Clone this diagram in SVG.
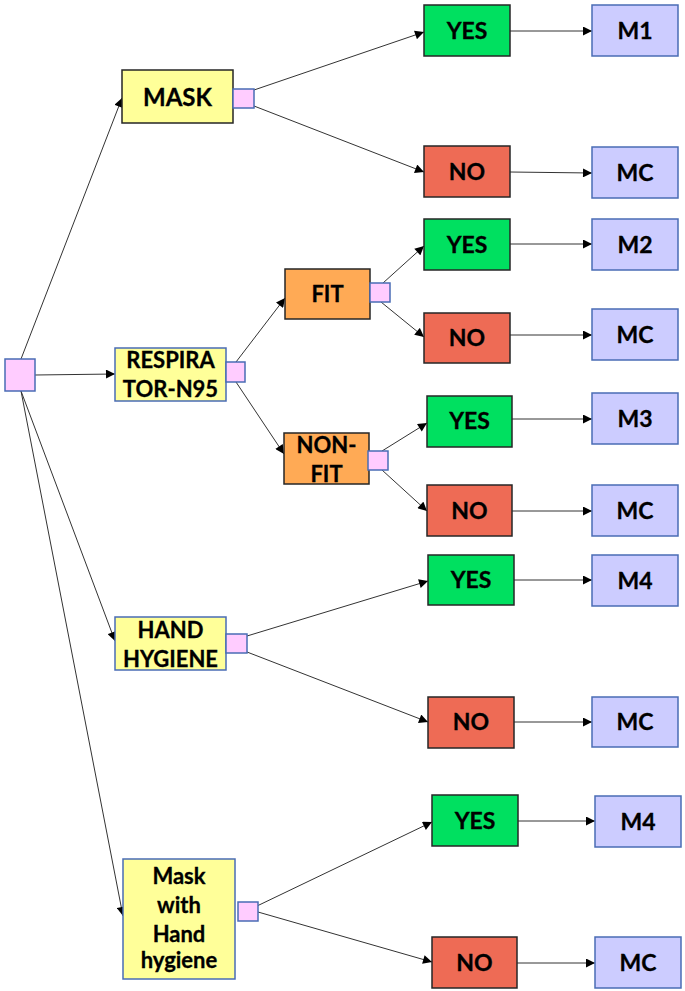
<svg xmlns="http://www.w3.org/2000/svg" width="685" height="991" viewBox="0 0 685 991">
<style>
rect{stroke-width:1.5}
.y{fill:#FFFF99}
.p{fill:#FFCCFF;stroke:#4A6CB5}
.g{fill:#00E060;stroke:#262626}
.r{fill:#EE6B55;stroke:#262626}
.o{fill:#FFAA55;stroke:#262626}
.l{fill:#CCCCFF;stroke:#4A6CB5}
.bb{stroke:#4A6CB5}
.bk{stroke:#262626}
text{font-family:Lato,"Open Sans","Liberation Sans",Arial,sans-serif;font-weight:700;text-anchor:middle;fill:#000;stroke:#000;stroke-width:0.3}
.t20{font-size:23px}
.t21{font-size:22px}
.t22{font-size:24px}
#connectors line{stroke:#333;stroke-width:1;marker-end:url(#ah)}
</style>
<defs>
<marker id="ah" viewBox="0 0 10 10" refX="10" refY="5" markerWidth="10" markerHeight="9" markerUnits="userSpaceOnUse" orient="auto">
<path d="M0,0 L10,5 L0,10 z" fill="#000"/>
</marker>
</defs>
<rect width="685" height="991" fill="#fff" stroke="none"/>
<g id="connectors">
<line x1="21" y1="359" x2="122" y2="98"/>
<line x1="35" y1="375" x2="115" y2="374"/>
<line x1="21" y1="391" x2="115" y2="641"/>
<line x1="21" y1="391" x2="123" y2="916"/>
<line x1="254" y1="90" x2="424" y2="32"/>
<line x1="254" y1="106" x2="424" y2="172"/>
<line x1="510" y1="31" x2="592" y2="31"/>
<line x1="510" y1="172" x2="592" y2="173"/>
<line x1="236" y1="362" x2="285" y2="298"/>
<line x1="236" y1="382" x2="284" y2="454"/>
<line x1="383" y1="283" x2="424" y2="246"/>
<line x1="381" y1="302" x2="424" y2="337"/>
<line x1="510" y1="244" x2="592" y2="244"/>
<line x1="510" y1="335" x2="592" y2="335"/>
<line x1="382" y1="451" x2="427" y2="423"/>
<line x1="382" y1="470" x2="427" y2="511"/>
<line x1="512" y1="419" x2="592" y2="419"/>
<line x1="512" y1="511" x2="592" y2="511"/>
<line x1="247" y1="636" x2="428" y2="581"/>
<line x1="247" y1="652" x2="428" y2="722"/>
<line x1="514" y1="580" x2="592" y2="580"/>
<line x1="514" y1="722" x2="592" y2="722"/>
<line x1="257" y1="906" x2="432" y2="822"/>
<line x1="258" y1="912" x2="432" y2="962"/>
<line x1="518" y1="821" x2="595" y2="821"/>
<line x1="517" y1="963" x2="595" y2="963"/>
</g>
<g id="root"><rect class="p" x="5" y="359" width="30" height="32"/></g>
<g id="mask"><rect class="y bk" x="122" y="70" width="111" height="53"/><text class="t22" x="177.5" y="106">MASK</text></g>
<g id="mask-chance"><rect class="p" x="233" y="89" width="21" height="19"/></g>
<g id="mask-yes"><rect class="g" x="424" y="5" width="86" height="51"/><text class="t20" x="467" y="39">YES</text></g>
<g id="mask-m1"><rect class="l" x="592" y="5" width="86" height="51"/><text class="t20" x="635" y="39">M1</text></g>
<g id="mask-no"><rect class="r" x="424" y="146" width="86" height="51"/><text class="t20" x="467" y="180">NO</text></g>
<g id="mask-mc"><rect class="l" x="592" y="147" width="86" height="51"/><text class="t20" x="635" y="181">MC</text></g>
<g id="resp"><rect class="y bb" x="115" y="348" width="111" height="53"/><text class="t21" x="170.5" y="368">RESPIRA</text><text class="t21" x="170.5" y="397">TOR-N95</text></g>
<g id="resp-chance"><rect class="p" x="226" y="362" width="19" height="20"/></g>
<g id="fit"><rect class="o" x="285" y="269" width="85" height="50"/><text class="t21" x="327.5" y="302">FIT</text></g>
<g id="fit-chance"><rect class="p" x="370" y="283" width="20" height="19"/></g>
<g id="fit-yes"><rect class="g" x="424" y="219" width="86" height="51"/><text class="t20" x="467" y="253">YES</text></g>
<g id="fit-m2"><rect class="l" x="592" y="219" width="86" height="51"/><text class="t20" x="635" y="253">M2</text></g>
<g id="fit-no"><rect class="r" x="424" y="313" width="86" height="50"/><text class="t20" x="467" y="346">NO</text></g>
<g id="fit-mc"><rect class="l" x="592" y="309" width="86" height="51"/><text class="t20" x="635" y="343">MC</text></g>
<g id="nonfit"><rect class="o" x="284" y="433" width="85" height="51"/><text class="t21" x="326.5" y="453">NON-</text><text class="t21" x="326.5" y="482">FIT</text></g>
<g id="nonfit-chance"><rect class="p" x="368" y="451" width="20" height="19"/></g>
<g id="nonfit-yes"><rect class="g" x="427" y="396" width="85" height="51"/><text class="t20" x="469.5" y="429">YES</text></g>
<g id="nonfit-m3"><rect class="l" x="592" y="393" width="86" height="51"/><text class="t20" x="635" y="427">M3</text></g>
<g id="nonfit-no"><rect class="r" x="427" y="485" width="85" height="51"/><text class="t20" x="469.5" y="519">NO</text></g>
<g id="nonfit-mc"><rect class="l" x="592" y="485" width="86" height="51"/><text class="t20" x="635" y="519">MC</text></g>
<g id="hand"><rect class="y bb" x="115" y="617" width="111" height="53"/><text class="t21" x="170.5" y="638">HAND</text><text class="t21" x="170.5" y="667">HYGIENE</text></g>
<g id="hand-chance"><rect class="p" x="226" y="634" width="21" height="19"/></g>
<g id="hand-yes"><rect class="g" x="428" y="555" width="86" height="50"/><text class="t20" x="471" y="588">YES</text></g>
<g id="hand-m4"><rect class="l" x="592" y="555" width="86" height="51"/><text class="t20" x="635" y="589">M4</text></g>
<g id="hand-no"><rect class="r" x="428" y="697" width="86" height="51"/><text class="t20" x="471" y="730">NO</text></g>
<g id="hand-mc"><rect class="l" x="592" y="697" width="86" height="50"/><text class="t20" x="635" y="730">MC</text></g>
<g id="maskhand"><rect class="y bb" x="123" y="859" width="112" height="120"/><text class="t21" x="179" y="884">Mask</text><text class="t21" x="179" y="913">with</text><text class="t21" x="179" y="942">Hand</text><text class="t21" x="179" y="968">hygiene</text></g>
<g id="maskhand-chance"><rect class="p" x="238" y="902" width="20" height="19"/></g>
<g id="maskhand-yes"><rect class="g" x="432" y="795" width="86" height="51"/><text class="t20" x="475" y="829">YES</text></g>
<g id="maskhand-m4"><rect class="l" x="595" y="796" width="86" height="51"/><text class="t20" x="638" y="830">M4</text></g>
<g id="maskhand-no"><rect class="r" x="432" y="937" width="85" height="51"/><text class="t20" x="474.5" y="971">NO</text></g>
<g id="maskhand-mc"><rect class="l" x="595" y="937" width="86" height="51"/><text class="t20" x="638" y="971">MC</text></g>
</svg>
